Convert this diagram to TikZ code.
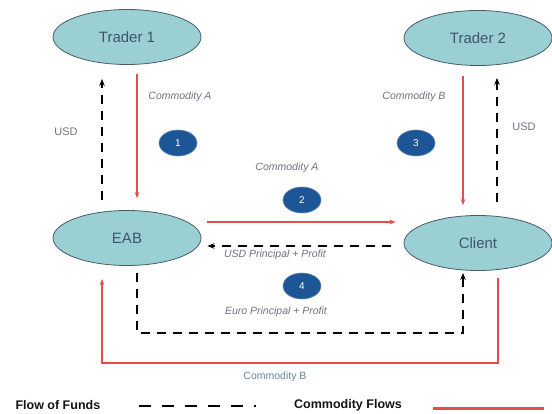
\documentclass[tikz,border=0pt]{standalone}
\usepackage{fontspec}
\setmainfont{Liberation Sans}
\setsansfont{Liberation Sans}
\usetikzlibrary{positioning,shapes.geometric,arrows.meta,calc}
\definecolor{partyfill}{RGB}{154, 207, 211}
\definecolor{partyline}{RGB}{72, 92, 104}
\definecolor{partytext}{RGB}{64, 84, 112}
\definecolor{stepblue}{RGB}{28, 86, 150}
\definecolor{labelgray}{RGB}{112, 114, 126}
\definecolor{labelteal}{RGB}{96, 136, 156}
\definecolor{commred}{RGB}{229, 76, 76}
\definecolor{textdark}{RGB}{20, 20, 20}

\begin{document}
\begin{tikzpicture}[
    x=1pt, y=-1pt,
    font=\sffamily,
    >=Stealth,
    party/.style={
        ellipse,
        minimum width=148pt, minimum height=55pt,
        inner sep=0pt,
        text=partytext,
        draw=partyline, line width=0.8pt,
        fill=partyfill,
        font=\sffamily\fontsize{15}{17}\selectfont
    },
    stepnum/.style={
        ellipse,
        minimum width=38pt, minimum height=26pt,
        inner sep=0pt,
        text=white,
        draw=stepblue!70, line width=0.6pt,
        fill=stepblue,
        font=\sffamily\fontsize{10}{12}\selectfont
    },
    flowlabel/.style={
        font=\sffamily\itshape\fontsize{10.5}{12}\selectfont,
        text=labelgray
    },
    commodity/.style={
        -{Stealth[length=6pt, width=4.5pt]}, line width=1.6pt,
        color=commred
    },
    funds/.style={
        -{Stealth[length=7pt, width=5.5pt]}, line width=2.6pt,
        color=black,
        dash pattern=on 9pt off 7pt
    },
    legendtext/.style={
        font=\sffamily\bfseries\fontsize{12.5}{14}\selectfont,
        text=textdark
    }
]

\useasboundingbox (0,0) rectangle (552,414);

% COLUMN 1: Trader 1 and EAB
\node[party] at (127,37) (trader1) {Trader 1};
\node[party] at (127,238) (eab) {EAB};

% COLUMN 2: Trader 2 and Client
\node[party] at (478,38) (trader2) {Trader 2};
\node[party] at (478,243) (client) {Client};

% Step markers
\node[stepnum] at (178,143) (step1) {1};
\node[stepnum] at (302,200) (step2) {2};
\node[stepnum] at (416,143) (step3) {3};
\node[stepnum] at (302,286) (step4) {4};

% Flow labels
\node[flowlabel] at (180,97) (lblcoma) {Commodity A};
\node[flowlabel, font=\sffamily\fontsize{11}{12}\selectfont] at (66,132) (lblusdl) {USD};
\node[flowlabel] at (414,97) (lblcomb) {Commodity B};
\node[flowlabel, font=\sffamily\fontsize{11}{12}\selectfont] at (524,127) (lblusdr) {USD};
\node[flowlabel] at (287,168) (lblcomamid) {Commodity A};
\node[flowlabel] at (275,255) (lblusdpp) {USD Principal + Profit};
\node[flowlabel] at (276,312) (lbleuropp) {Euro Principal + Profit};
\node[flowlabel, text=labelteal, font=\sffamily\fontsize{10.5}{12}\selectfont] at (275,377) (lblcombbot) {Commodity B};

% === CONNECTIONS ===
% Step 1
\draw[commodity, shorten <=9pt, shorten >=12pt] ([xshift=10pt]trader1.south) -- ([xshift=10pt]eab.north);
\draw[funds, shorten <=10pt, shorten >=14pt] ([xshift=-25pt]eab.north) -- ([xshift=-25pt]trader1.south);

% Step 2
\draw[commodity, shorten <=6pt, shorten >=8pt] ([yshift=16pt]eab.east) -- ([yshift=16pt]eab.east -| client.west);
\draw[funds, shorten <=13pt, shorten >=6pt] ([yshift=-3pt]client.west) -- ([yshift=-3pt]client.west -| eab.east);

% Step 3
\draw[commodity, shorten <=10pt, shorten >=10pt] ([xshift=-15pt]trader2.south) -- ([xshift=-15pt]client.north);
\draw[funds, shorten <=13pt, shorten >=12pt] ([xshift=19pt]client.north) -- ([xshift=19pt]trader2.south);

% Step 4
\draw[funds, shorten <=7pt, shorten >=2pt] ([xshift=10pt]eab.south) -- ++(0,67) -| ([xshift=-15pt]client.south);
\draw[commodity, shorten <=7pt, shorten >=13pt] ([xshift=20pt]client.south) -- ++(0,92) -| ([xshift=-25pt]eab.south);

% Legend
\node[legendtext, anchor=west] at (12,405) (legfunds) {Flow of Funds};
\coordinate (legdasha) at (139,406);
\coordinate (legdashb) at (256,406);
\draw[line width=2.6pt, dash pattern=on 12pt off 11pt] (legdasha) -- (legdashb);
\node[legendtext] at (348,405) (legcomm) {Commodity Flows};
\coordinate (legreda) at (433,408);
\coordinate (legredb) at (544,408);
\draw[commred, line width=3pt] (legreda) -- (legredb);

\end{tikzpicture}
\end{document}
